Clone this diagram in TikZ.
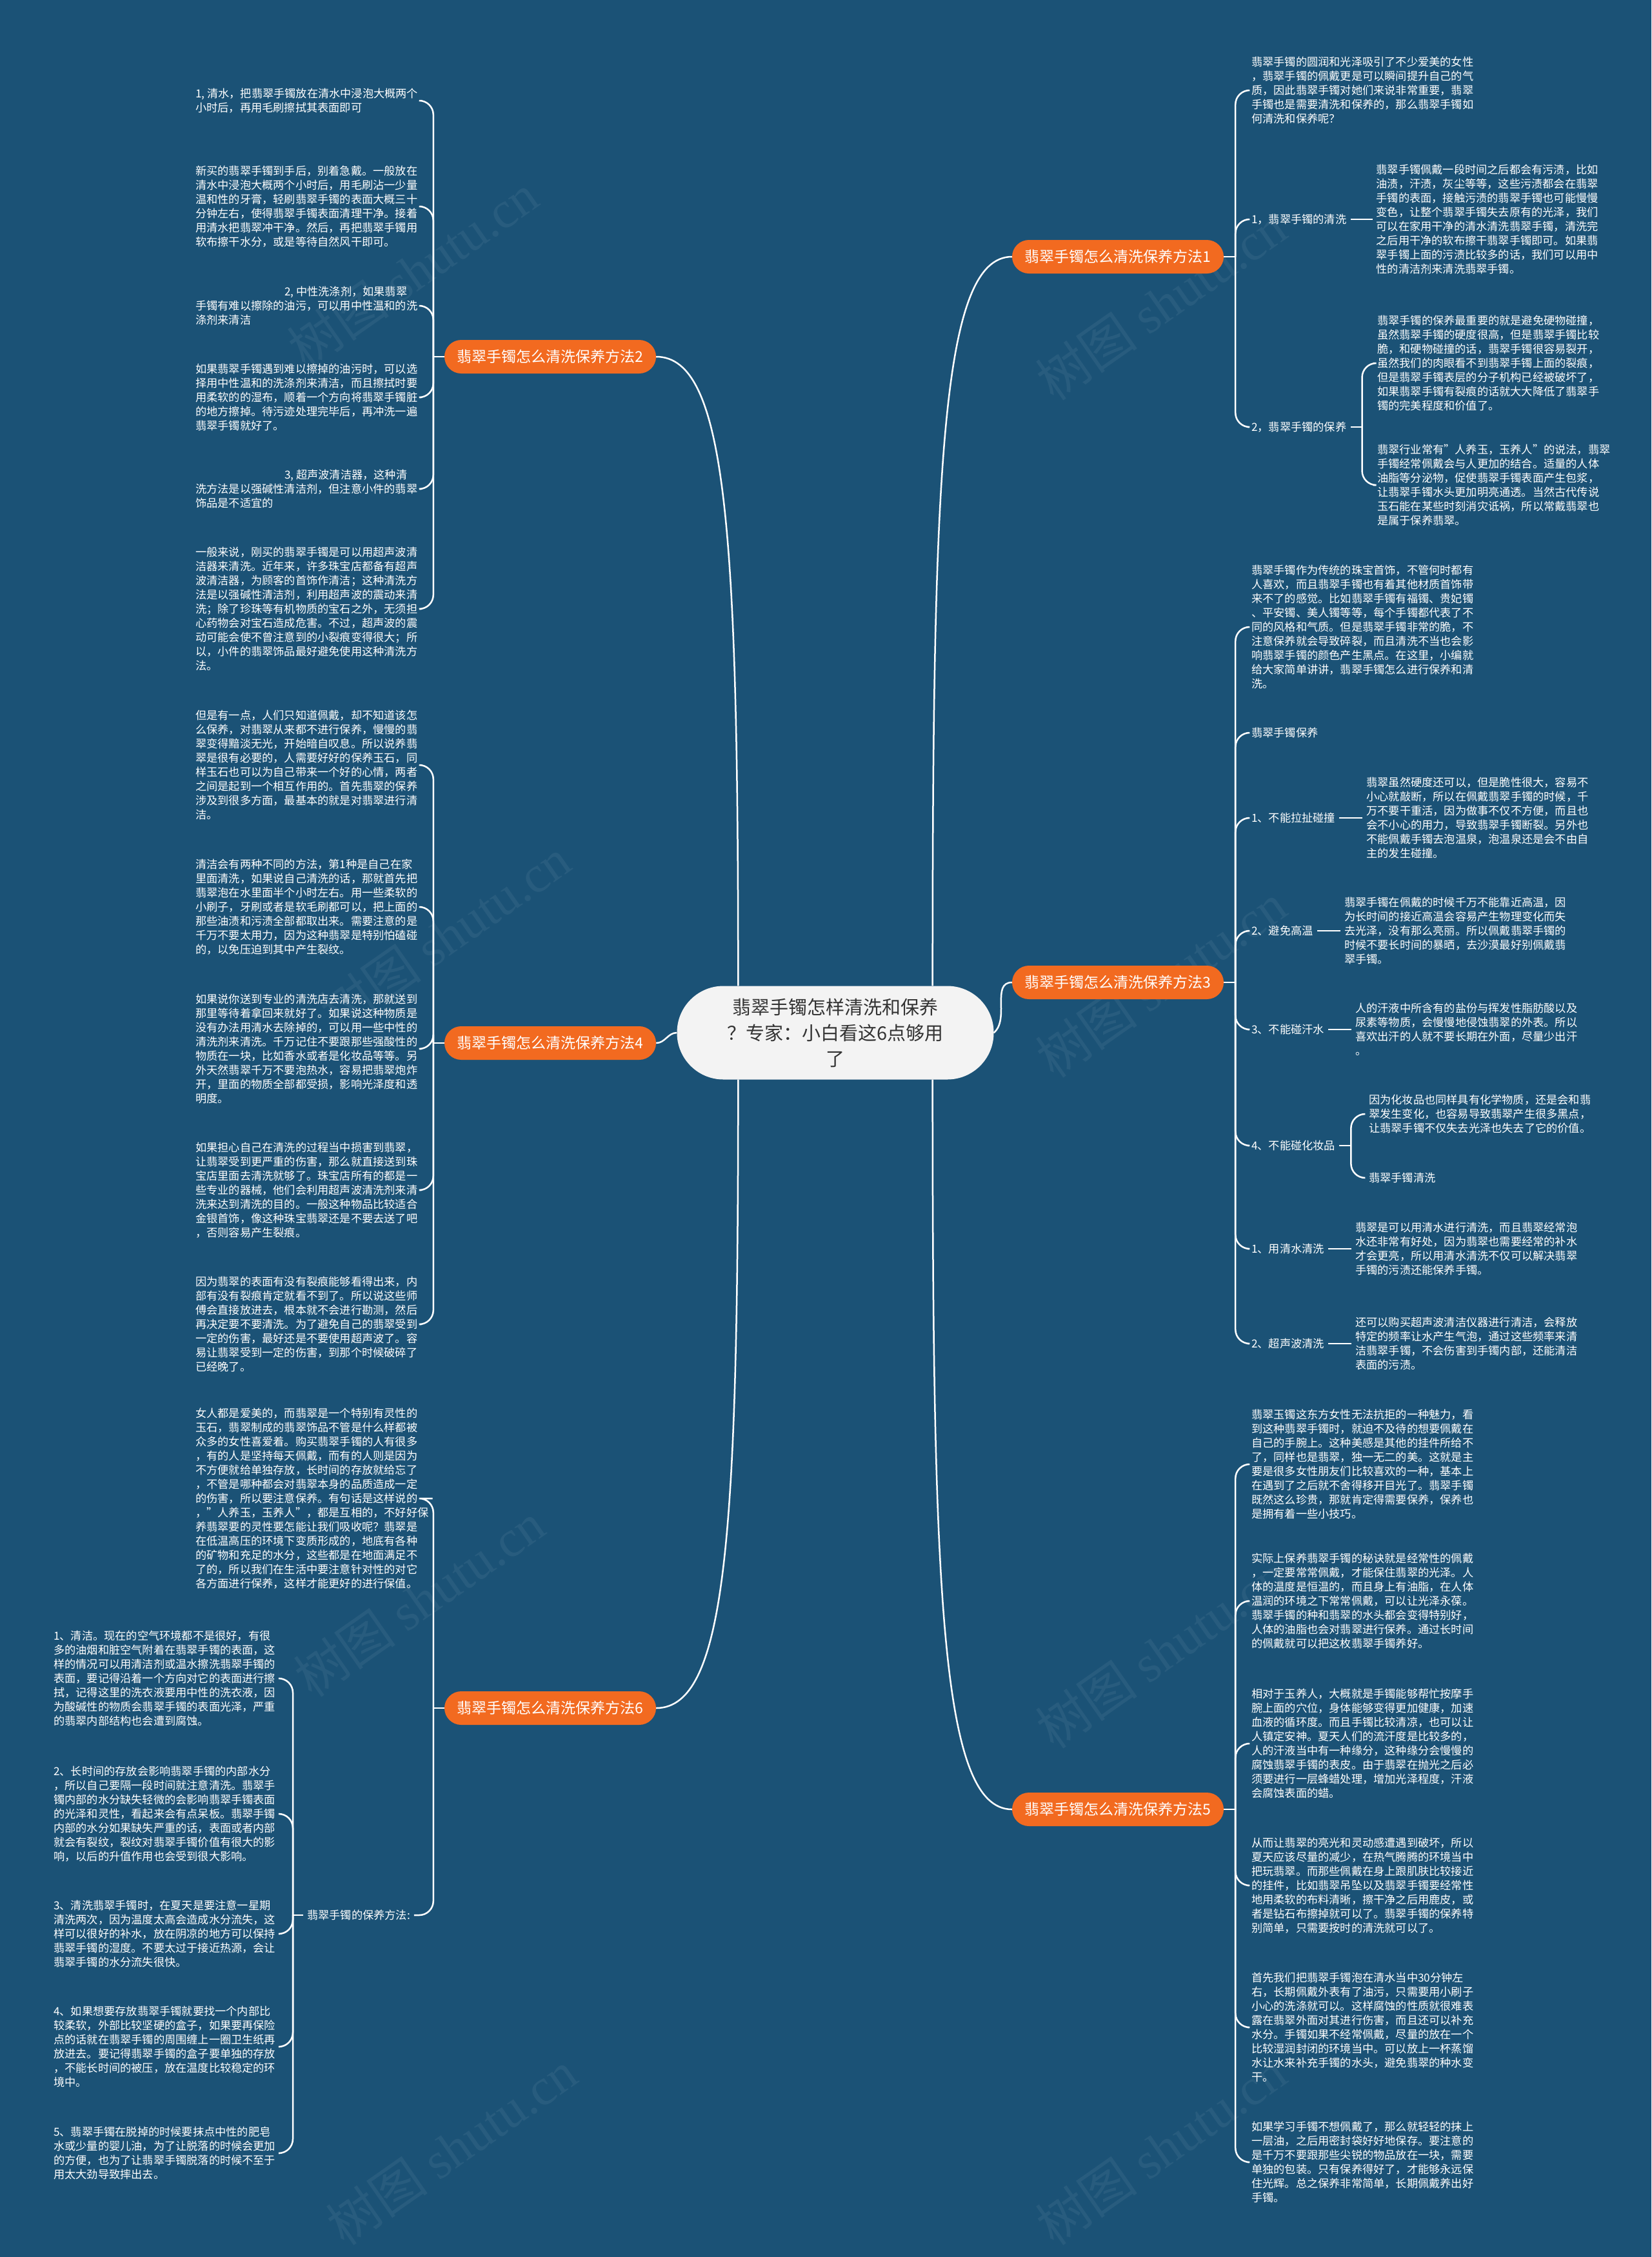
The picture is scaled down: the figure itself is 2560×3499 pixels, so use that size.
\documentclass[tikz,border=0pt]{standalone}
\usepackage{fontspec}
\setmainfont{Noto Sans CJK SC}
\newfontfamily\wmserif{Liberation Serif}
\usetikzlibrary{calc}
\definecolor{bgc}{RGB}{27,82,118}
\definecolor{orng}{RGB}{242,106,32}
\definecolor{ctrfill}{RGB}{243,243,243}
\definecolor{ctrtext}{RGB}{51,51,51}
\begin{document}
\begin{tikzpicture}[x=1pt,y=-1pt,
  conn/.style={draw=white, line width=2.5pt},
  brk/.style={draw=white, line width=2.5pt, rounded corners=22pt},
  leaf/.style={text=white, font=\fontsize{17.2}{22}\selectfont, align=left, inner xsep=6pt, inner ysep=2pt, anchor=west},
  lbl/.style={text=white, font=\fontsize{17.2}{22}\selectfont, inner xsep=6pt, inner ysep=2pt, anchor=west},
  branch/.style={fill=orng, text=white, font=\fontsize{23}{28}\selectfont, minimum width=328pt, minimum height=52pt, rounded corners=26pt, inner sep=0pt},
  center/.style={fill=ctrfill, text=ctrtext, font=\fontsize{29}{40}\selectfont, align=center, minimum width=491pt, minimum height=145pt, rounded corners=72pt, inner sep=0pt},
  wm/.style={text=white, opacity=0.06, font=\fontsize{80}{90}\selectfont, rotate=35}
]
\fill[bgc] (0,0) rectangle (2560,3499);
\useasboundingbox (0,0) rectangle (2560,3499);

% watermarks
\node[wm] (w1) at (640,420) {树图 {\wmserif shutu.cn}};
\node[wm] (w2) at (1800,470) {树图 {\wmserif shutu.cn}};
\node[wm] (w3) at (690,1450) {树图 {\wmserif shutu.cn}};
\node[wm] (w4) at (1800,1520) {树图 {\wmserif shutu.cn}};
\node[wm] (w5) at (650,2480) {树图 {\wmserif shutu.cn}};
\node[wm] (w6) at (1800,2560) {树图 {\wmserif shutu.cn}};
\node[wm] (w7) at (700,3330) {树图 {\wmserif shutu.cn}};
\node[wm] (w8) at (1800,3330) {树图 {\wmserif shutu.cn}};

% center and branches
\node[center] (c) at (1295,1601) {翡翠手镯怎样清洗和保养\\？专家：小白看这6点够用\\了};
\node[branch] (b1) at (1733,398) {翡翠手镯怎么清洗保养方法1};
\node[branch] (b2) at (853,553) {翡翠手镯怎么清洗保养方法2};
\node[branch] (b3) at (1733,1523) {翡翠手镯怎么清洗保养方法3};
\node[branch] (b4) at (853,1617) {翡翠手镯怎么清洗保养方法4};
\node[branch] (b5) at (1733,2805) {翡翠手镯怎么清洗保养方法5};
\node[branch] (b6) at (853,2648) {翡翠手镯怎么清洗保养方法6};

\draw[conn] ([xshift=-95pt]c.north east) .. controls +(0,-800) and +(-110,0) .. (b1.west);
\draw[conn] (c.east) to[out=40,in=180] (b3.west);
\draw[conn] ([xshift=-95pt]c.south east) .. controls +(0,800) and +(-110,0) .. (b5.west);
\draw[conn] ([xshift=95pt]c.north west) .. controls +(0,-700) and +(110,0) .. (b2.east);
\draw[conn] (c.west) to[out=180,in=0] (b4.east);
\draw[conn] ([xshift=95pt]c.south west) .. controls +(0,700) and +(110,0) .. (b6.east);

% ---------------- branch 2 (left) ----------------
\node[leaf] (l2a) at (297,156) {1, 清水，把翡翠手镯放在清水中浸泡大概两个\\小时后，再用毛刷擦拭其表面即可};
\node[leaf] (l2b) at (297,320) {新买的翡翠手镯到手后，别着急戴。一般放在\\清水中浸泡大概两个小时后，用毛刷沾一少量\\温和性的牙膏，轻刷翡翠手镯的表面大概三十\\分钟左右，使得翡翠手镯表面清理干净。接着\\用清水把翡翠冲干净。然后，再把翡翠手镯用\\软布擦干水分，或是等待自然风干即可。};
\node[leaf] (l2c) at (297,474) {\hspace*{138pt}2, 中性洗涤剂，如果翡翠\\手镯有难以擦除的油污，可以用中性温和的洗\\涤剂来清洁};
\node[leaf] (l2d) at (297,616) {如果翡翠手镯遇到难以擦掉的油污时，可以选\\择用中性温和的洗涤剂来清洁，而且擦拭时要\\用柔软的的湿布，顺着一个方向将翡翠手镯脏\\的地方擦掉。待污迹处理完毕后，再冲洗一遍\\翡翠手镯就好了。};
\node[leaf] (l2e) at (297,758) {\hspace*{138pt}3, 超声波清洁器，这种清\\洗方法是以强碱性清洁剂，但注意小件的翡翠\\饰品是不适宜的};
\node[leaf] (l2f) at (297,944) {一般来说，刚买的翡翠手镯是可以用超声波清\\洁器来清洗。近年来，许多珠宝店都备有超声\\波清洁器，为顾客的首饰作清洁；这种清洗方\\法是以强碱性清洁剂，利用超声波的震动来清\\洗；除了珍珠等有机物质的宝石之外，无须担\\心药物会对宝石造成危害。不过，超声波的震\\动可能会使不曾注意到的小裂痕变得很大；所\\以，小件的翡翠饰品最好避免使用这种清洗方\\法。};
\coordinate (j2) at ([xshift=-17pt]b2.west);
\draw[conn] (b2.west) -- (j2);
\foreach \n in {l2a,l2b,l2c,l2d,l2e,l2f} \draw[brk] (j2) |- (\n.east);

% ---------------- branch 4 (left) ----------------
\node[leaf] (l4a) at (297,1186) {但是有一点，人们只知道佩戴，却不知道该怎\\么保养，对翡翠从来都不进行保养，慢慢的翡\\翠变得黯淡无光，开始暗自叹息。所以说养翡\\翠是很有必要的，人需要好好的保养玉石，同\\样玉石也可以为自己带来一个好的心情，两者\\之间是起到一个相互作用的。首先翡翠的保养\\涉及到很多方面，最基本的就是对翡翠进行清\\洁。};
\node[leaf] (l4b) at (297,1406) {清洁会有两种不同的方法，第1种是自己在家\\里面清洗，如果说自己清洗的话，那就首先把\\翡翠泡在水里面半个小时左右。用一些柔软的\\小刷子，牙刷或者是软毛刷都可以，把上面的\\那些油渍和污渍全部都取出来。需要注意的是\\千万不要太用力，因为这种翡翠是特别怕磕碰\\的，以免压迫到其中产生裂纹。};
\node[leaf] (l4c) at (297,1626) {如果说你送到专业的清洗店去清洗，那就送到\\那里等待着拿回来就好了。如果说这种物质是\\没有办法用清水去除掉的，可以用一些中性的\\清洗剂来清洗。千万记住不要跟那些强酸性的\\物质在一块，比如香水或者是化妆品等等。另\\外天然翡翠千万不要泡热水，容易把翡翠炮炸\\开，里面的物质全部都受损，影响光泽度和透\\明度。};
\node[leaf] (l4d) at (297,1845) {如果担心自己在清洗的过程当中损害到翡翠，\\让翡翠受到更严重的伤害，那么就直接送到珠\\宝店里面去清洗就够了。珠宝店所有的都是一\\些专业的器械，他们会利用超声波清洗剂来清\\洗来达到清洗的目的。一般这种物品比较适合\\金银首饰，像这种珠宝翡翠还是不要去送了吧\\，否则容易产生裂痕。};
\node[leaf] (l4e) at (297,2053) {因为翡翠的表面有没有裂痕能够看得出来，内\\部有没有裂痕肯定就看不到了。所以说这些师\\傅会直接放进去，根本就不会进行勘测，然后\\再决定要不要清洗。为了避免自己的翡翠受到\\一定的伤害，最好还是不要使用超声波了。容\\易让翡翠受到一定的伤害，到那个时候破碎了\\已经晚了。};
\coordinate (j4) at ([xshift=-17pt]b4.west);
\draw[conn] (b4.west) -- (j4);
\foreach \n in {l4a,l4b,l4c,l4d,l4e} \draw[brk] (j4) |- (\n.east);

% ---------------- branch 6 (left) ----------------
\node[leaf] (l6a) at (297,2323) {女人都是爱美的，而翡翠是一个特别有灵性的\\玉石，翡翠制成的翡翠饰品不管是什么样都被\\众多的女性喜爱着。购买翡翠手镯的人有很多\\，有的人是坚持每天佩戴，而有的人则是因为\\不方便就给单独存放，长时间的存放就给忘了\\，不管是哪种都会对翡翠本身的品质造成一定\\的伤害，所以要注意保养。有句话是这样说的\\，"人养玉，玉养人"，都是互相的，不好好保\\养翡翠要的灵性要怎能让我们吸收呢？翡翠是\\在低温高压的环境下变质形成的，地底有各种\\的矿物和充足的水分，这些都是在地面满足不\\了的，所以我们在生活中要注意针对性的对它\\各方面进行保养，这样才能更好的进行保值。};
\node[lbl] (lab6) at (470,2969) {翡翠手镯的保养方法:};
\coordinate (j6) at ([xshift=-17pt]b6.west);
\draw[conn] (b6.west) -- (j6);
\foreach \n in {l6a,lab6} \draw[brk] (j6) |- (\n.east);

\node[leaf] (s1) at (77,2602) {1、清洁。现在的空气环境都不是很好，有很\\多的油烟和脏空气附着在翡翠手镯的表面，这\\样的情况可以用清洁剂或温水擦洗翡翠手镯的\\表面，要记得沿着一个方向对它的表面进行擦\\拭，记得这里的洗衣液要用中性的洗衣液，因\\为酸碱性的物质会翡翠手镯的表面光泽，严重\\的翡翠内部结构也会遭到腐蚀。};
\node[leaf] (s2) at (77,2812) {2、长时间的存放会影响翡翠手镯的内部水分\\，所以自己要隔一段时间就注意清洗。翡翠手\\镯内部的水分缺失轻微的会影响翡翠手镯表面\\的光泽和灵性，看起来会有点呆板。翡翠手镯\\内部的水分如果缺失严重的话，表面或者内部\\就会有裂纹，裂纹对翡翠手镯价值有很大的影\\响，以后的升值作用也会受到很大影响。};
\node[leaf] (s3) at (77,2998) {3、清洗翡翠手镯时，在夏天是要注意一星期\\清洗两次，因为温度太高会造成水分流失，这\\样可以很好的补水，放在阴凉的地方可以保持\\翡翠手镯的湿度。不要太过于接近热源，会让\\翡翠手镯的水分流失很快。};
\node[leaf] (s4) at (77,3173) {4、如果想要存放翡翠手镯就要找一个内部比\\较柔软，外部比较坚硬的盒子，如果要再保险\\点的话就在翡翠手镯的周围缠上一圈卫生纸再\\放进去。要记得翡翠手镯的盒子要单独的存放\\，不能长时间的被压，放在温度比较稳定的环\\境中。};
\node[leaf] (s5) at (77,3338) {5、翡翠手镯在脱掉的时候要抹点中性的肥皂\\水或少量的婴儿油，为了让脱落的时候会更加\\的方便，也为了让翡翠手镯脱落的时候不至于\\用太大劲导致摔出去。};
\coordinate (j6l) at ([xshift=-16pt]lab6.west);
\draw[conn] (lab6.west) -- (j6l);
\foreach \n in {s1,s2,s3,s4,s5} \draw[brk] (j6l) |- (\n.east);

% ---------------- branch 1 (right) ----------------
\node[leaf] (r1a) at (1934,140) {翡翠手镯的圆润和光泽吸引了不少爱美的女性\\，翡翠手镯的佩戴更是可以瞬间提升自己的气\\质，因此翡翠手镯对她们来说非常重要，翡翠\\手镯也是需要清洗和保养的，那么翡翠手镯如\\何清洗和保养呢？};
\node[lbl] (r1b) at (1934,340) {1，翡翠手镯的清洗};
\node[leaf] (r1bl) at ([xshift=34pt]r1b.east) {翡翠手镯佩戴一段时间之后都会有污渍，比如\\油渍，汗渍，灰尘等等，这些污渍都会在翡翠\\手镯的表面，接触污渍的翡翠手镯也可能慢慢\\变色，让整个翡翠手镯失去原有的光泽，我们\\可以在家用干净的清水清洗翡翠手镯，清洗完\\之后用干净的软布擦干翡翠手镯即可。如果翡\\翠手镯上面的污渍比较多的话，我们可以用中\\性的清洁剂来清洗翡翠手镯。};
\node[lbl] (r1c) at (1934,662) {2，翡翠手镯的保养};
\node[leaf] (r1c1) at (2129,563) {翡翠手镯的保养最重要的就是避免硬物碰撞，\\虽然翡翠手镯的硬度很高，但是翡翠手镯比较\\脆，和硬物碰撞的话，翡翠手镯很容易裂开，\\虽然我们的肉眼看不到翡翠手镯上面的裂痕，\\但是翡翠手镯表层的分子机构已经被破坏了，\\如果翡翠手镯有裂痕的话就大大降低了翡翠手\\镯的完美程度和价值了。};
\node[leaf] (r1c2) at (2129,752) {翡翠行业常有"人养玉，玉养人"的说法，翡翠\\手镯经常佩戴会与人更加的结合。适量的人体\\油脂等分泌物，促使翡翠手镯表面产生包浆，\\让翡翠手镯水头更加明亮通透。当然古代传说\\玉石能在某些时刻消灾诋祸，所以常戴翡翠也\\是属于保养翡翠。};
\coordinate (j1) at ([xshift=18pt]b1.east);
\draw[conn] (b1.east) -- (j1);
\foreach \n in {r1a,r1b,r1c} \draw[brk] (j1) |- (\n.west);
\draw[conn] (r1b.east) -- (r1bl.west);
\coordinate (j1c) at ([xshift=18pt]r1c.east);
\draw[conn] (r1c.east) -- (j1c);
\foreach \n in {r1c1,r1c2} \draw[brk] (j1c) |- (\n.west);

% ---------------- branch 3 (right) ----------------
\node[leaf] (r3a) at (1934,972) {翡翠手镯作为传统的珠宝首饰，不管何时都有\\人喜欢，而且翡翠手镯也有着其他材质首饰带\\来不了的感觉。比如翡翠手镯有福镯、贵妃镯\\、平安镯、美人镯等等，每个手镯都代表了不\\同的风格和气质。但是翡翠手镯非常的脆，不\\注意保养就会导致碎裂，而且清洗不当也会影\\响翡翠手镯的颜色产生黑点。在这里，小编就\\给大家简单讲讲，翡翠手镯怎么进行保养和清\\洗。};
\node[lbl] (r3b) at (1934,1136) {翡翠手镯保养};
\node[lbl] (r3c) at (1934,1268) {1、不能拉扯碰撞};
\node[leaf] (r3cl) at ([xshift=36pt]r3c.east) {翡翠虽然硬度还可以，但是脆性很大，容易不\\小心就敲断，所以在佩戴翡翠手镯的时候，千\\万不要干重活，因为做事不仅不方便，而且也\\会不小心的用力，导致翡翠手镯断裂。另外也\\不能佩戴手镯去泡温泉，泡温泉还是会不由自\\主的发生碰撞。};
\node[lbl] (r3d) at (1934,1443) {2、避免高温};
\node[leaf] (r3dl) at ([xshift=36pt]r3d.east) {翡翠手镯在佩戴的时候千万不能靠近高温，因\\为长时间的接近高温会容易产生物理变化而失\\去光泽，没有那么亮丽。所以佩戴翡翠手镯的\\时候不要长时间的暴晒，去沙漠最好别佩戴翡\\翠手镯。};
\node[lbl] (r3e) at (1934,1596) {3、不能碰汗水};
\node[leaf] (r3el) at ([xshift=36pt]r3e.east) {人的汗液中所含有的盐份与挥发性脂肪酸以及\\尿素等物质，会慢慢地侵蚀翡翠的外表。所以\\喜欢出汗的人就不要长期在外面，尽量少出汗\\。};
\node[lbl] (r3f) at (1934,1776) {4、不能碰化妆品};
\node[leaf] (r3f1) at (2116,1727) {因为化妆品也同样具有化学物质，还是会和翡\\翠发生变化，也容易导致翡翠产生很多黑点，\\让翡翠手镯不仅失去光泽也失去了它的价值。};
\node[lbl] (r3f2) at (2116,1826) {翡翠手镯清洗};
\node[lbl] (r3g) at (1934,1936) {1、用清水清洗};
\node[leaf] (r3gl) at ([xshift=36pt]r3g.east) {翡翠是可以用清水进行清洗，而且翡翠经常泡\\水还非常有好处，因为翡翠也需要经常的补水\\才会更亮，所以用清水清洗不仅可以解决翡翠\\手镯的污渍还能保养手镯。};
\node[lbl] (r3h) at (1934,2083) {2、超声波清洗};
\node[leaf] (r3hl) at ([xshift=36pt]r3h.east) {还可以购买超声波清洁仪器进行清洁，会释放\\特定的频率让水产生气泡，通过这些频率来清\\洁翡翠手镯，不会伤害到手镯内部，还能清洁\\表面的污渍。};
\coordinate (j3) at ([xshift=18pt]b3.east);
\draw[conn] (b3.east) -- (j3);
\foreach \n in {r3a,r3b,r3c,r3d,r3e,r3f,r3g,r3h} \draw[brk] (j3) |- (\n.west);
\foreach \n in {r3c,r3d,r3e,r3g,r3h} \draw[conn] (\n.east) -- (\n l.west);
\coordinate (j3f) at ([xshift=18pt]r3f.east);
\draw[conn] (r3f.east) -- (j3f);
\foreach \n in {r3f1,r3f2} \draw[brk] (j3f) |- (\n.west);

% ---------------- branch 5 (right) ----------------
\node[leaf] (r5a) at (1934,2270) {翡翠玉镯这东方女性无法抗拒的一种魅力，看\\到这种翡翠手镯时，就迫不及待的想要佩戴在\\自己的手腕上。这种美感是其他的挂件所给不\\了，同样也是翡翠，独一无二的美。这就是主\\要是很多女性朋友们比较喜欢的一种，基本上\\在遇到了之后就不舍得移开目光了。翡翠手镯\\既然这么珍贵，那就肯定得需要保养，保养也\\是拥有着一些小技巧。};
\node[leaf] (r5b) at (1934,2482) {实际上保养翡翠手镯的秘诀就是经常性的佩戴\\，一定要常常佩戴，才能保住翡翠的光泽。人\\体的温度是恒温的，而且身上有油脂，在人体\\温润的环境之下常常佩戴，可以让光泽永葆。\\翡翠手镯的种和翡翠的水头都会变得特别好，\\人体的油脂也会对翡翠进行保养。通过长时间\\的佩戴就可以把这枚翡翠手镯养好。};
\node[leaf] (r5c) at (1934,2703) {相对于玉养人，大概就是手镯能够帮忙按摩手\\腕上面的穴位，身体能够变得更加健康，加速\\血液的循环度。而且手镯比较清凉，也可以让\\人镇定安神。夏天人们的流汗度是比较多的，\\人的汗液当中有一种缘分，这种缘分会慢慢的\\腐蚀翡翠手镯的表皮。由于翡翠在抛光之后必\\须要进行一层蜂蜡处理，增加光泽程度，汗液\\会腐蚀表面的蜡。};
\node[leaf] (r5d) at (1934,2923) {从而让翡翠的亮光和灵动感遭遇到破坏，所以\\夏天应该尽量的减少，在热气腾腾的环境当中\\把玩翡翠。而那些佩戴在身上跟肌肤比较接近\\的挂件，比如翡翠吊坠以及翡翠手镯要经常性\\地用柔软的布料清晰，擦干净之后用鹿皮，或\\者是钻石布擦掉就可以了。翡翠手镯的保养特\\别简单，只需要按时的清洗就可以了。};
\node[leaf] (r5e) at (1934,3143) {首先我们把翡翠手镯泡在清水当中30分钟左\\右，长期佩戴外表有了油污，只需要用小刷子\\小心的洗涤就可以。这样腐蚀的性质就很难表\\露在翡翠外面对其进行伤害，而且还可以补充\\水分。手镯如果不经常佩戴，尽量的放在一个\\比较湿润封闭的环境当中。可以放上一杯蒸馏\\水让水来补充手镯的水头，避免翡翠的种水变\\干。};
\node[leaf] (r5f) at (1934,3352) {如果学习手镯不想佩戴了，那么就轻轻的抹上\\一层油，之后用密封袋好好地保存。要注意的\\是千万不要跟那些尖锐的物品放在一块，需要\\单独的包装。只有保养得好了，才能够永远保\\住光辉。总之保养非常简单，长期佩戴养出好\\手镯。};
\coordinate (j5) at ([xshift=18pt]b5.east);
\draw[conn] (b5.east) -- (j5);
\foreach \n in {r5a,r5b,r5c,r5d,r5e,r5f} \draw[brk] (j5) |- (\n.west);
\end{tikzpicture}
\end{document}
